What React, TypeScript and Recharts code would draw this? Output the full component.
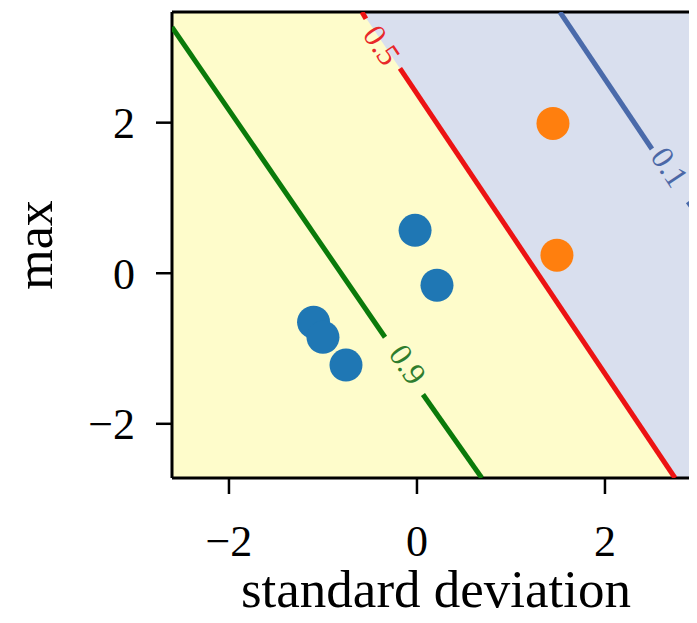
import { ComposedChart, XAxis, YAxis, Scatter, Area, ReferenceArea, ReferenceLine, ReferenceDot } from 'recharts';

const SD_MIN = -2.606;
const SD_MAX = 3.011;
const MAX_MIN = -2.72;
const MAX_MAX = 3.47;

const sdTicks = [-2, 0, 2];
const maxTicks = [-2, 0, 2];

// samples
const class0Sd = [-1.1, -1.0, -0.755, -0.02, 0.213];
const class0Max = [-0.65, -0.85, -1.22, 0.57, -0.16];
const class1Sd = [1.447, 1.489];
const class1Max = [1.99, 0.24];

// contour segments (split where the inline label sits)
const c09Sd = [-2.606, -0.34, 0.064, 0.69];
const c09Max = [3.27, -0.85, -1.61, -2.72];
const c05Sd = [-0.585, -0.543, -0.181, 2.745];
const c05Max = [3.47, 3.38, 2.72, -2.72];
const c01Sd = [1.521, 2.5, 2.883, 3.011];
const c01Max = [3.47, 1.65, 0.95, 0.73];

// p < 0.5 region edge, follows the 0.5 contour
const regionSd = [-0.585, 2.745, 3.011];
const regionLow = [3.47, -2.72, -2.72];

const labelSd = [-0.372, -0.096, 2.69];
const labelMax = [3.03, -1.21, 1.41];
const labelText = ['0.5', '0.9', '0.1'];
const labelColor = ['#e8282a', '#2e7d2e', '#4b68a6'];

const toPts = (xs: number[], ys: number[]) => xs.map((sd, i) => ({ sd, mx: ys[i] }));
const regionData = regionSd.map((sd, i) => ({ sd, band: [regionLow[i], MAX_MAX] }));

const FONT = 'Liberation Serif, Times New Roman, serif';
const ANGLE = 56.3;

const fmt = (v: number) => (v < 0 ? `\u2212${-v}` : `${v}`);

const noShape = () => <g />;
const dot = (color: string) => (p: any) => <circle cx={p.cx} cy={p.cy} r={16.5} fill={color} />;

function segments(xs: number[], ys: number[], color: string, key: string) {
  const pts = toPts(xs, ys);
  return [0, 2].map((i) => (
    <Scatter
      key={key + i}
      data={[pts[i], pts[i + 1]]}
      line={{ stroke: color, strokeWidth: 5 }}
      lineType="joint"
      shape={noShape}
      isAnimationActive={false}
    />
  ));
}

export default function App() {
  return (
    <div style={{ width: 689, height: 615, marginBottom: -8, overflow: 'hidden' }}>
      <ComposedChart
        width={700}
        height={615}
        data={regionData}
        margin={{ top: 4, right: 8, left: 0, bottom: 10 }}
      >
        <XAxis
          type="number"
          dataKey="sd"
          domain={[SD_MIN, SD_MAX]}
          ticks={sdTicks}
          allowDataOverflow
          height={135}
          tickFormatter={fmt}
          tickSize={16}
          tickMargin={31}
          tick={{ fontFamily: FONT, fontSize: 44, fill: '#000' }}
          tickLine={{ stroke: '#000', strokeWidth: 2.5 }}
          axisLine={{ stroke: '#000', strokeWidth: 3 }}
          label={(props: any) => {
            const vb = props.viewBox;
            return (
              <text x={vb.x + vb.width / 2} y={vb.y + 129} textAnchor="middle" fontFamily={FONT} fontSize={53} fill="#000">
                standard deviation
              </text>
            );
          }}
        />
        <YAxis
          type="number"
          dataKey="mx"
          domain={[MAX_MIN, MAX_MAX]}
          ticks={maxTicks}
          allowDataOverflow
          width={164}
          tickFormatter={fmt}
          tickSize={16}
          tickMargin={21}
          tick={{ fontFamily: FONT, fontSize: 44, fill: '#000' }}
          tickLine={{ stroke: '#000', strokeWidth: 2.5 }}
          axisLine={{ stroke: '#000', strokeWidth: 3 }}
          label={(props: any) => {
            const vb = props.viewBox;
            const cy = vb.y + vb.height / 2;
            return (
              <text x={44} y={cy} transform={`rotate(-90, 44, ${cy})`} textAnchor="middle" fontFamily={FONT} fontSize={52} fill="#000">
                max
              </text>
            );
          }}
        />
        <ReferenceArea x1={SD_MIN} x2={SD_MAX} y1={MAX_MIN} y2={MAX_MAX} fill="#fefccb" fillOpacity={1} stroke="none" />
        <Area
          type="linear"
          dataKey="band"
          fill="#d9dfee"
          fillOpacity={1}
          stroke="none"
          isAnimationActive={false}
        />
        {segments(c09Sd, c09Max, '#0a7a0a', 'g')}
        {segments(c05Sd, c05Max, '#ec1313', 'r')}
        {segments(c01Sd, c01Max, '#4a6aaa', 'b')}
        <Scatter data={toPts(class0Sd, class0Max)} shape={dot('#1f77b4')} isAnimationActive={false} />
        <Scatter data={toPts(class1Sd, class1Max)} shape={dot('#ff7f0e')} isAnimationActive={false} />
        {labelText.map((t, i) => (
          <ReferenceDot
            key={t}
            x={labelSd[i]}
            y={labelMax[i]}
            r={0}
            shape={(p: any) => (
              <text
                x={p.cx}
                y={p.cy}
                transform={`rotate(${ANGLE}, ${p.cx}, ${p.cy})`}
                textAnchor="middle"
                dominantBaseline="central"
                fontFamily={FONT}
                fontSize={32}
                fill={labelColor[i]}
              >
                {t}
              </text>
            )}
          />
        ))}
        <ReferenceLine y={MAX_MAX} stroke="#000" strokeWidth={3} />
      </ComposedChart>
    </div>
  );
}
